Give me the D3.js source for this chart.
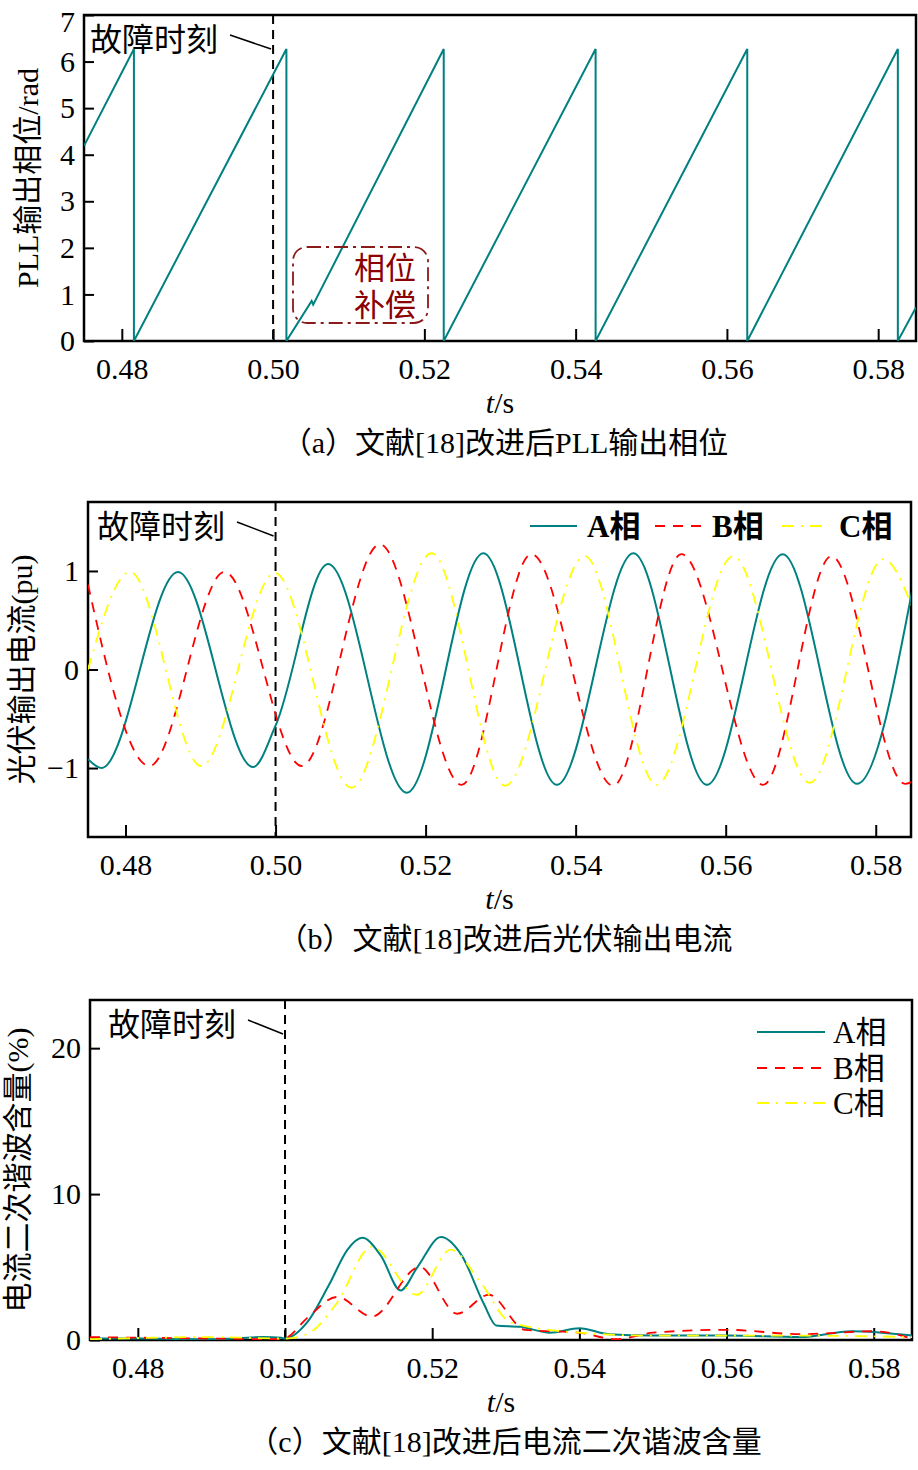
<!DOCTYPE html>
<html><head><meta charset="utf-8">
<script src="https://cdn.jsdelivr.net/npm/d3@7"></script>
<style>
body{margin:0;background:#fff}
text{font-family:"Liberation Serif","Noto Sans CJK SC",serif;fill:#000}
</style></head>
<body><svg id="c" width="918" height="1470"></svg>
<script>
const xTicks = [0.48, 0.50, 0.52, 0.54, 0.56, 0.58];

// (a) PLL phase (t, rad)
const pllPhase = [[0.475,4.19],[0.4816,6.27],[0.4816,0],[0.50176,6.27],[0.50176,0],
  [0.5051,0.86],[0.5053,0.78],[0.52256,6.27],[0.52256,0],[0.54264,6.27],[0.54264,0],
  [0.56269,6.27],[0.56269,0],[0.5826,6.27],[0.5826,0],[0.585,0.72]];

// (b) current extrema (t, pu)
const curA = [[0.475,-0.91],[0.4768,-1.0],[0.487,0.99],[0.497,-0.99],[0.5,-0.57],[0.507,1.07],
  [0.5175,-1.25],[0.5277,1.18],[0.5375,-1.17],[0.5477,1.18],[0.5575,-1.17],[0.5676,1.17],
  [0.5775,-1.16],[0.5848,0.78]];
const curB = [[0.475,0.86],[0.4832,-0.98],[0.4932,0.99],[0.5035,-0.98],[0.5139,1.27],
  [0.5248,-1.17],[0.5341,1.17],[0.545,-1.18],[0.5541,1.17],[0.565,-1.17],[0.5741,1.15],
  [0.5839,-1.16],[0.5848,-1.14]];
const curC = [[0.475,0],[0.4806,0.99],[0.4901,-0.98],[0.4999,0.98],[0.5101,-1.2],[0.5208,1.18],
  [0.5306,-1.18],[0.5412,1.15],[0.5508,-1.17],[0.561,1.15],[0.5712,-1.15],[0.581,1.12],[0.5848,0.65]];

// (c) second harmonic content (t, %)
const harA = [[0.4735,0.1],[0.48,0.1],[0.49,0.05],[0.497,0.2],[0.4995,0.15],[0.5,0.1],[0.503,1.2],
  [0.506,3.8],[0.5085,6.2],[0.5105,7.0],[0.513,5.8],[0.5157,3.4],[0.518,5.0],[0.5212,7.05],
  [0.524,5.8],[0.527,2.5],[0.5287,1.0],[0.532,0.9],[0.536,0.5],[0.54,0.8],[0.544,0.4],
  [0.55,0.3],[0.56,0.3],[0.57,0.2],[0.577,0.6],[0.5852,0.3]];
const harB = [[0.4735,0.2],[0.49,0.1],[0.4995,0.05],[0.5,0.1],[0.503,1.5],[0.5071,2.95],
  [0.5118,1.6],[0.5183,5.0],[0.5234,1.8],[0.5277,3.1],[0.5326,0.7],[0.54,0.5],[0.545,0.05],
  [0.55,0.5],[0.56,0.7],[0.57,0.4],[0.58,0.6],[0.5852,0.1]];
const harC = [[0.4735,0.05],[0.49,0.2],[0.5,0.1],[0.503,0.4],[0.507,2.5],[0.5118,6.4],
  [0.5179,3.1],[0.5225,6.2],[0.5265,4.0],[0.5307,1.2],[0.54,0.5],[0.55,0.3],[0.57,0.3],[0.5852,0.2]];

const svg = d3.select("#c");
const TEAL = "#008080", RED = "#ff0000", YEL = "#ffff00";
const FS = "30px";

function panel(o) {
  const x = d3.scaleLinear().domain(o.xd).range([o.l, o.r]);
  const y = d3.scaleLinear().domain(o.yd).range([o.b, o.t]);
  const g = svg.append("g");
  g.append("g").attr("transform", `translate(0,${o.b})`)
    .call(d3.axisBottom(x).tickValues(xTicks).tickSizeInner(-12).tickSizeOuter(0).tickFormat(d3.format(".2f")))
    .call(a => { a.select(".domain").remove(); a.selectAll("line").attr("stroke-width", 2);
      a.selectAll("text").attr("dy", 0).attr("y", 38).style("font-size", FS); });
  g.append("g").attr("transform", `translate(${o.l},0)`)
    .call(d3.axisLeft(y).tickValues(o.yt).tickSizeInner(-10).tickSizeOuter(0).tickFormat(d3.format("d")))
    .call(a => { a.select(".domain").remove(); a.selectAll("line").attr("stroke-width", 2);
      a.selectAll("text").attr("x", -9).style("font-size", FS)
        .attr("dy", d => y(d) - o.t < 12 ? "0.55em" : "0.32em"); });
  g.append("rect").attr("x", o.l).attr("y", o.t).attr("width", o.r - o.l).attr("height", o.b - o.t)
    .attr("fill", "none").attr("stroke", "#000").attr("stroke-width", 2.5);
  // fault line
  g.append("line").attr("x1", x(0.5)).attr("x2", x(0.5)).attr("y1", o.t).attr("y2", o.b)
    .attr("stroke", "#000").attr("stroke-width", 2).attr("stroke-dasharray", "9,6");
  g.append("text").attr("x", o.fx).attr("y", o.t + 36).style("font-size", "32px").text("故障时刻");
  g.append("line").attr("x1", o.fx + 140).attr("y1", o.t + 20).attr("x2", x(0.5) - 2).attr("y2", o.t + 34)
    .attr("stroke", "#000").attr("stroke-width", 1.5);
  // labels
  const lx = g.append("text").attr("x", (o.l + o.r) / 2).attr("y", o.b + 72)
    .attr("text-anchor", "middle").style("font-size", FS);
  lx.append("tspan").style("font-style", "italic").text("t");
  lx.append("tspan").text("/s");
  g.append("text").attr("transform", `translate(${o.yl},${(o.t + o.b) / 2}) rotate(-90)`)
    .attr("text-anchor", "middle").style("font-size", FS).text(o.ylab);
  g.append("text").attr("x", 505).attr("y", o.b + 112).attr("text-anchor", "middle")
    .style("font-size", FS).text(o.cap);
  const clip = "clip" + o.t;
  svg.append("clipPath").attr("id", clip).append("rect")
    .attr("x", o.l).attr("y", o.t).attr("width", o.r - o.l).attr("height", o.b - o.t);
  const plot = g.append("g").attr("clip-path", `url(#${clip})`);
  return { x, y, plot, g };
}

function drawLine(p, data, color, dash, w, curve) {
  p.plot.append("path").datum(data)
    .attr("d", d3.line().x(d => p.x(d[0])).y(d => p.y(d[1])).curve(curve))
    .attr("fill", "none").attr("stroke", color).attr("stroke-width", w)
    .attr("stroke-dasharray", dash);
}

// (a)
const pa = panel({ l: 84, r: 916, t: 15, b: 341, xd: [0.475, 0.585], yd: [0, 7],
  yt: d3.range(0, 8), fx: 90, yl: 38, ylab: "PLL输出相位/rad", cap: "（a）文献[18]改进后PLL输出相位" });
drawLine(pa, pllPhase, TEAL, null, 2, d3.curveLinear);
pa.g.append("rect").attr("x", 293).attr("y", 247).attr("width", 135).attr("height", 76)
  .attr("rx", 14).attr("fill", "none").attr("stroke", "#8b1a1a").attr("stroke-width", 1.8)
  .attr("stroke-dasharray", "14,5,3,5");
pa.g.append("text").attr("x", 385).attr("y", 279).attr("text-anchor", "middle")
  .style("font-size", "31px").style("fill", "#8b0000").text("相位");
pa.g.append("text").attr("x", 385).attr("y", 316).attr("text-anchor", "middle")
  .style("font-size", "31px").style("fill", "#8b0000").text("补偿");

// (b)
const pb = panel({ l: 88, r: 911, t: 502, b: 837, xd: [0.475, 0.5847], yd: [-1.7, 1.7],
  yt: [-1, 0, 1], fx: 97, yl: 32, ylab: "光伏输出电流(pu)", cap: "（b）文献[18]改进后光伏输出电流" });
drawLine(pb, curA, TEAL, null, 2, d3.curveMonotoneX);
drawLine(pb, curB, RED, "10,8", 1.8, d3.curveMonotoneX);
drawLine(pb, curC, YEL, "12,7,2,7", 1.8, d3.curveMonotoneX);
[[530, TEAL, null, "A相"], [655, RED, "10,8", "B相"], [782, YEL, "12,7,2,7", "C相"]].forEach(([lx, c, d, t]) => {
  pb.g.append("line").attr("x1", lx).attr("x2", lx + 47).attr("y1", 526).attr("y2", 526)
    .attr("stroke", c).attr("stroke-width", 2).attr("stroke-dasharray", d);
  pb.g.append("text").attr("x", lx + 57).attr("y", 537).style("font-size", "31px")
    .style("font-weight", "bold").text(t);
});

// (c)
const pc = panel({ l: 90, r: 912, t: 1000, b: 1340, xd: [0.4735, 0.5852], yd: [0, 23.3],
  yt: [0, 10, 20], fx: 108, yl: 28, ylab: "电流二次谐波含量(%)", cap: "（c）文献[18]改进后电流二次谐波含量" });
drawLine(pc, harA, TEAL, null, 2, d3.curveMonotoneX);
drawLine(pc, harB, RED, "10,8", 1.8, d3.curveMonotoneX);
drawLine(pc, harC, YEL, "12,7,2,7", 1.8, d3.curveMonotoneX);
[[1032, TEAL, null, "A相"], [1068, RED, "10,8", "B相"], [1103, YEL, "12,7,2,7", "C相"]].forEach(([ly, c, d, t]) => {
  pc.g.append("line").attr("x1", 757).attr("x2", 825).attr("y1", ly).attr("y2", ly)
    .attr("stroke", c).attr("stroke-width", 2).attr("stroke-dasharray", d);
  pc.g.append("text").attr("x", 833).attr("y", ly + 11).style("font-size", "31px").text(t);
});
</script></body></html>
